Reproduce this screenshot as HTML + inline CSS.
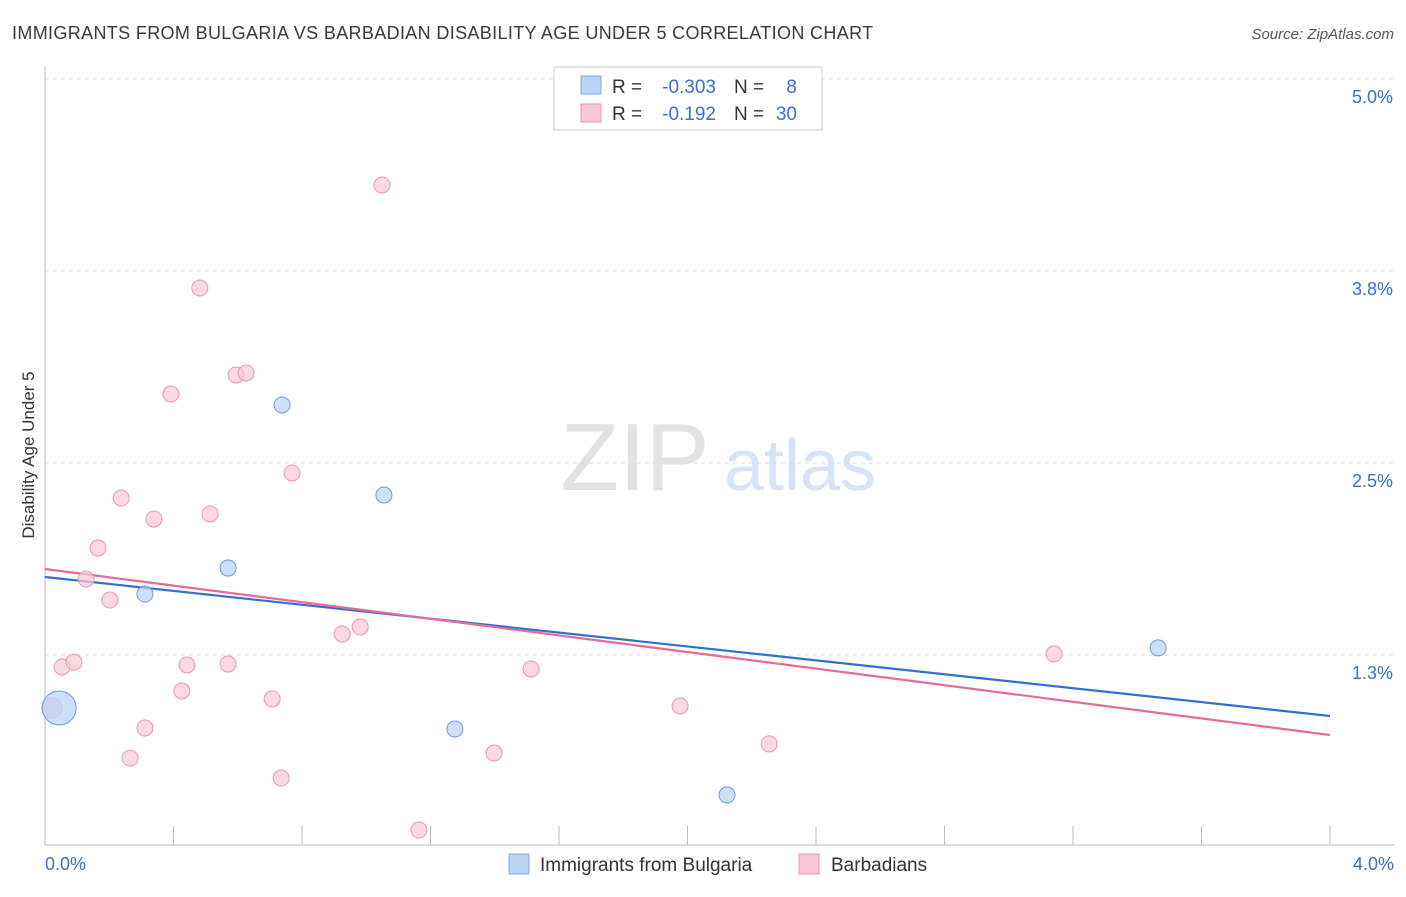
<!DOCTYPE html>
<html><head><meta charset="utf-8"><style>
body{margin:0;background:#fff;font-family:"Liberation Sans",sans-serif}
svg text{font-family:"Liberation Sans",sans-serif}
</style></head><body>
<svg id="chart" width="1406" height="892">
<text x="12" y="39" font-size="18" fill="#3a3a3a" letter-spacing="0.35">IMMIGRANTS FROM BULGARIA VS BARBADIAN DISABILITY AGE UNDER 5 CORRELATION CHART</text>
<text x="1394" y="39" font-size="15" fill="#555" text-anchor="end" font-style="italic">Source: ZipAtlas.com</text>
<text x="0" y="0" transform="translate(34,455) rotate(-90)" font-size="17" fill="#333" text-anchor="middle">Disability Age Under 5</text>
<g><text x="635" y="490" font-size="96" fill="#e2e2e2" font-family="Liberation Serif" text-anchor="middle">ZIP</text><text x="800" y="490" font-size="72" fill="#d6e4f5" text-anchor="middle">atlas</text></g>
<g id="grid"></g><g id="axes"></g><g id="lines"></g><g id="points"></g>
<g>
<rect x="554" y="67" width="268" height="63" fill="#fff" stroke="#ccc"/>
<rect x="581" y="76" width="20" height="18" fill="#b9d3f5" stroke="#7fa8e0"/>
<rect x="581" y="104" width="20" height="18" fill="#f9c8d6" stroke="#eb97b0"/>
<text x="612" y="93" font-size="19" fill="#333">R =</text>
<text x="716" y="93" font-size="19" fill="#3a6fd4" text-anchor="end">-0.303</text>
<text x="734" y="93" font-size="19" fill="#333">N =</text>
<text x="797" y="93" font-size="19" fill="#3a6fd4" text-anchor="end">8</text>
<text x="612" y="120" font-size="19" fill="#333">R =</text>
<text x="716" y="120" font-size="19" fill="#3a6fd4" text-anchor="end">-0.192</text>
<text x="734" y="120" font-size="19" fill="#333">N =</text>
<text x="797" y="120" font-size="19" fill="#3a6fd4" text-anchor="end">30</text>
</g>
<g>
<rect x="509" y="854" width="20" height="20" fill="#b9d3f5" stroke="#7fa8e0"/>
<text x="540" y="871" font-size="19" fill="#333">Immigrants from Bulgaria</text>
<rect x="799" y="854" width="20" height="20" fill="#f9c8d6" stroke="#eb97b0"/>
<text x="831" y="871" font-size="19" fill="#333">Barbadians</text>
</g>
</svg>
<script>
const xTicks=[0,0.4,0.8,1.2,1.6,2.0,2.4,2.8,3.2,3.6,4.0];
const yTicks=[1.25,2.5,3.75,5.0];
const yTickLabels=["1.3%","2.5%","3.8%","5.0%"];
const blueX=[0.044,0.311,0.570,0.738,1.055,1.276,2.123,3.465];
const blueY=[0.905,1.647,1.816,2.878,2.292,0.768,0.339,1.296];
const blueR=[17,8,8,8,8,8,8,8];
const pinkX=[1.049,0.482,0.595,0.626,0.392,0.769,0.237,0.339,0.514,0.165,0.128,0.202,0.925,0.981,0.053,0.090,0.442,0.570,1.513,0.426,0.707,3.141,0.022,1.977,0.311,2.254,0.265,1.398,0.735,1.164];
const pinkY=[4.310,3.639,3.073,3.086,2.949,2.435,2.272,2.135,2.168,1.947,1.745,1.608,1.387,1.432,1.172,1.204,1.185,1.191,1.159,1.016,0.964,1.257,0.905,0.918,0.775,0.671,0.579,0.612,0.449,0.111];
const blueTrend=[1.758,0.853];
const pinkTrend=[1.810,0.729];
const NS="http://www.w3.org/2000/svg";
const X=v=>45+v*321.25, Y=v=>847-v*153.6;
function mk(t,a,p){const e=document.createElementNS(NS,t);for(const k in a)e.setAttribute(k,a[k]);p.appendChild(e);return e;}
const grid=document.getElementById('grid'),axes=document.getElementById('axes'),lines=document.getElementById('lines'),pts=document.getElementById('points');
yTicks.forEach((v,i)=>{
 const l=mk('line',{x1:45,x2:1394,y1:Y(v),y2:Y(v),stroke:'#ddd','stroke-dasharray':'4,4'},grid);
 
 
 const t=mk('text',{x:1393,y:Y(v)+24,'font-size':18,fill:'#3a6fd4','text-anchor':'end'},axes);
 t.textContent=yTickLabels[i];
 
 
});
const ax=mk('line',{x1:45,x2:45,y1:67,y2:845,stroke:'#bbb'},axes);


const bx=mk('line',{x1:45,x2:1394,y1:845,y2:845,stroke:'#bbb'},axes);


xTicks.forEach(v=>{
 const l=mk('line',{x1:X(v),x2:X(v),y1:826,y2:845,stroke:'#bbb'},axes);
 
 
});
[[0,'0.0%','start',45],[4,'4.0%','end',1394]].forEach(a=>{
 const t=mk('text',{x:a[3],y:870,'font-size':18,fill:'#3a6fd4','text-anchor':a[2]},axes);
 t.textContent=a[1];
 
 
});
function trend(tr,c,n){const l=mk('line',{x1:X(0),y1:Y(tr[0]),x2:X(4),y2:Y(tr[1]),stroke:c,'stroke-width':2.2},lines);
 
 }
pinkX.forEach((x,i)=>{const c=mk('circle',{cx:X(x),cy:Y(pinkY[i]),r:i==22?10:8,fill:'#f9c8d6','fill-opacity':0.7,stroke:'#eb97b0'},pts);
 
 });
blueX.forEach((x,i)=>{const c=mk('circle',{cx:X(x),cy:Y(blueY[i]),r:blueR[i],fill:'#b9d3f5','fill-opacity':0.7,stroke:'#6d9ae0'},pts);
 
 });
trend(blueTrend,'#2f6fd6','bulgaria-trend-line');
trend(pinkTrend,'#e8699a','barbadians-trend-line');
</script>
</body></html>
